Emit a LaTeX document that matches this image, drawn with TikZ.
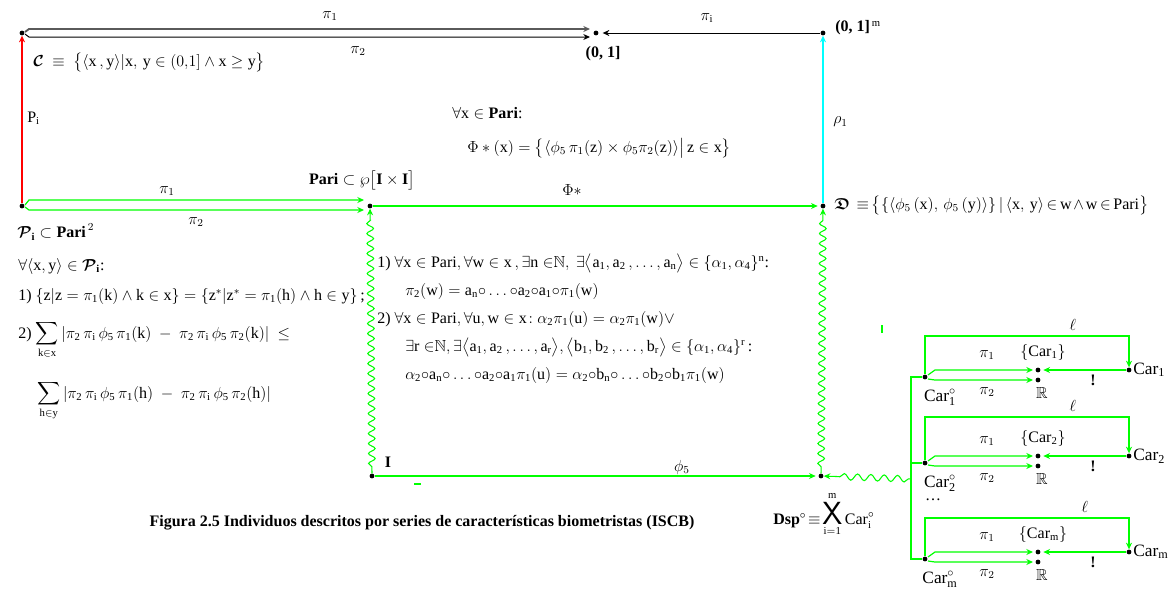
\documentclass[tikz,border=0pt]{standalone}
\usepackage{amsmath,amssymb}
\usepackage{fontspec}
\setmainfont{Liberation Serif}
\usetikzlibrary{arrows.meta,decorations.pathmorphing,calc}
\definecolor{gr}{RGB}{0,255,0}
\definecolor{cy}{RGB}{0,255,255}
\definecolor{rd}{RGB}{255,0,0}
\definecolor{dg}{RGB}{90,90,90}
\begin{document}
\begin{tikzpicture}[x=0.75pt,y=-0.75pt,font=\fontsize{12}{14}\selectfont,
  dot/.style={circle,fill=black,inner sep=0pt,minimum size=3.6pt},
  lbl/.style={inner sep=0pt},
  tip/.style={-{Stealth[length=5pt,width=4.5pt]}},
  gline/.style={draw=gr,line width=0.9pt},
  wavy/.style={draw=gr,line width=0.8pt,decorate,decoration={snake,segment length=7.5pt,amplitude=2.5pt,pre length=5pt,post length=6pt}},
  wavyh/.style={draw=gr,line width=0.8pt,decorate,decoration={snake,segment length=10pt,amplitude=2.4pt,pre length=2pt,post length=9pt}},
  capt/.style={inner sep=0pt,font=\fontsize{12}{14}\selectfont\bfseries}]
\useasboundingbox (0,0) rectangle (1175,589);
% main dots
\node[dot] (C) at (22,33) {};
\node[dot] (U) at (596,33) {};
\node[dot] (Um) at (823,33) {};
\node[dot] (P) at (22,206) {};
\node[dot] (Pari) at (370,206) {};
\node[dot] (D) at (823,206) {};
\node[dot] (I) at (372,476) {};
\node[dot] (Dsp) at (821,476) {};
% top row
\draw[dg,line width=1.4pt,tip] ($(C)+(3,-1)$) -- ($(C)+(7,-4)$) -- ($(U)+(-6,-4)$);
\draw[black,line width=0.75pt,tip] ($(C)+(3,1)$) -- ($(C)+(7,4)$) -- ($(U)+(-6,4)$);
\draw[black,line width=0.75pt,tip,shorten >=3pt] (Um) -- (U);
\draw[rd,line width=0.9pt,tip] (P) -- (C);
\draw[cy,line width=0.9pt,tip] (D) -- (Um);
% middle row
\draw[gline,tip] ($(P)+(3,-1)$) -- ($(P)+(7,-6)$) -- ($(Pari)+(-6,-6)$);
\draw[gline,tip] ($(P)+(3,1)$) -- ($(P)+(7,4)$) -- ($(Pari)+(-6,4)$);
\draw[gline,tip,shorten >=2pt] (Pari) -- (D);
% bottom row
\draw[gline,tip,shorten >=2pt] (I) -- (Dsp);
\draw[wavy,tip] (I) -- (Pari);
\draw[wavy,tip] (Dsp) -- (D);
\draw[gr,line width=0.8pt] (414,484) -- (421,484);
\draw[gr,line width=0.8pt] (882,325) -- (882,333);
% top labels
\node[lbl] at (330,16) {$\pi_1$};
\node[lbl] at (358,51) {$\pi_2$};
\node[lbl] at (707,18) {$\pi_{\mathrm{i}}$};
\node[lbl] at (603,54) {\textbf{(0, 1]}};
\node[lbl,anchor=west] at (835,28) {\textbf{(0, 1]}$^{\,\mathrm{m}}$};
\node[lbl,anchor=west] at (33,62) {$\boldsymbol{\mathcal{C}}\ \equiv\ \bigl\{\langle\mathrm{x\,,y}\rangle|\mathrm{x,\,y}\in(0{,}1]\wedge\mathrm{x}\geq\mathrm{y}\bigr\}$};
\node[lbl,anchor=west] at (27,118) {$\mathrm{P_i}$};
\node[lbl,anchor=west] at (833,122) {$\rho_1$};
% middle labels
\node[lbl] at (167,191) {$\pi_1$};
\node[lbl] at (196,222) {$\pi_2$};
\node[lbl] at (362,180) {$\mathbf{Pari}\subset\wp\bigl[\mathbf{I\times I}\bigr]$};
\node[lbl] at (572,190) {$\Phi\ast$};
\node[lbl,anchor=west] at (452,113) {$\forall\mathrm{x}\in\mathbf{Pari}$:};
\node[lbl,anchor=west] at (467,148) {$\Phi\ast(\mathrm{x})=\bigl\{\langle\phi_5\,\pi_1(\mathrm{z})\times\phi_5\pi_2(\mathrm{z})\rangle\big|\,\mathrm{z}\in\mathrm{x}\bigr\}$};
\node[lbl,anchor=west] at (834,205) {\thickmuskip=3mu\medmuskip=2mu$\boldsymbol{\mathfrak{D}}\ \equiv\bigl\{\{\langle\phi_5\,(\mathrm{x}),\,\phi_5\,(\mathrm{y})\rangle\}\,|\,\langle\mathrm{x,\,y}\rangle\in\mathrm{w}\wedge\mathrm{w}\in\mathrm{Pari}\bigr\}$};
% left block
\node[lbl,anchor=west] at (17,232) {$\boldsymbol{\mathcal{P}}_{\mathbf{i}}\subset\mathbf{Pari}^{\,2}$};
\node[lbl,anchor=west] at (18,266) {$\forall\langle\mathrm{x,y}\rangle\in\boldsymbol{\mathcal{P}}_{\mathbf{i}}$:};
\node[lbl,anchor=west] at (18,296) {1) $\mathrm{\{z|z=\pi_1(k)\wedge k\in x\}=\{z^{*}|z^{*}=\pi_1(h)\wedge h\in y\}}$\,;};
\node[lbl,anchor=base west] at (18,338) {2) $\displaystyle\sum_{\mathrm{k\in x}}\mathrm{|\pi_2\,\pi_i\,\phi_5\,\pi_1(k)\ -\ \pi_2\,\pi_i\,\phi_5\,\pi_2(k)|}\ \leq$};
\node[lbl,anchor=base west] at (37,398) {$\displaystyle\sum_{\mathrm{h\in y}}\mathrm{|\pi_2\,\pi_i\,\phi_5\,\pi_1(h)\ -\ \pi_2\,\pi_i\,\phi_5\,\pi_2(h)|}$};
% middle block
\node[lbl,anchor=west] at (377,263) {1) $\mathrm{\forall x\in Pari,\forall w\in x\,,\exists n\in}\mathbb{N}\mathrm{,\ \exists\bigl\langle a_1,a_2\,,\ldots,a_n\bigr\rangle\in\{\alpha_1,\alpha_4\}^{n}}$:};
\node[lbl,anchor=west] at (405,291) {$\mathrm{\pi_2(w)=a_n{\circ}\ldots{\circ}a_2{\circ}a_1{\circ}\pi_1(w)}$};
\node[lbl,anchor=west] at (377,319) {2) $\mathrm{\forall x\in Pari,\forall u,w\in x\!:\alpha_2\pi_1(u)=\alpha_2\pi_1(w)\vee}$};
\node[lbl,anchor=west] at (405,347) {$\mathrm{\exists r\in}\mathbb{N}\mathrm{,\exists\bigl\langle a_1,a_2\,,\ldots,a_r\bigr\rangle,\bigl\langle b_1,b_2\,,\ldots,b_r\bigr\rangle\in\{\alpha_1,\alpha_4\}^{r}}$\,:};
\node[lbl,anchor=west] at (405,375) {$\mathrm{\alpha_2{\circ}a_n{\circ}\ldots{\circ}a_2{\circ}a_1\pi_1(u)=\alpha_2{\circ}b_n{\circ}\ldots{\circ}b_2{\circ}b_1\pi_1(w)}$};
% bottom labels
\node[lbl] at (388,462) {\textbf{I}};
\node[lbl] at (682,467) {$\phi_5$};
\node[lbl,anchor=west] at (773,514) {$\mathbf{Dsp}^{\circ}\!\equiv\!\mathop{\mbox{\fontsize{24}{24}\selectfont\sffamily X}}\limits_{\mathrm{i=1}}^{\mathrm{m}}\mathrm{Car}_{\mathrm{i}}^{\circ}$};
\node[capt] at (422,523) {Figura 2.5 Individuos descritos por series de características biometristas (ISCB)};
% right structure
\foreach \k/\yo/\ltop/\lx in {1/377/336/1073,2/463/417/1073,m/559/518/1085}{
  \node[dot] (co\k) at (925,\yo) {};
  \node[dot] (cs\k) at (1038,\yo-7) {};
  \node[dot] (cr\k) at (1038,\yo+3) {};
  \node[dot] (cc\k) at (1129,\yo-7) {};
  \coordinate (lt\k) at (1129,\ltop);
  \draw[gline,tip] ($(co\k)+(3,-2)$) -- ($(co\k)+(10,-7)$) -- ($(cs\k)+(-5,0)$);
  \draw[gline,tip] ($(co\k)+(3,2)$) -- ($(co\k)+(10,3)$) -- ($(cr\k)+(-5,0)$);
  \draw[gline,tip,shorten >=2pt] (cc\k) -- (cs\k);
  \draw[gline,tip] (co\k.north) |- (lt\k) -- (cc\k.north);
  \node[lbl] at (987,\yo-22) {$\pi_1$};
  \node[lbl] at (987,\yo+15) {$\pi_2$};
  \node[lbl] at (1043,\yo-25) {$\{\mathrm{Car_{\k}}\}$};
  \node[lbl] at (1042,\yo+16) {$\mathbb{R}$};
  \node[lbl,anchor=west,font=\fontsize{13}{15}\selectfont] at (1133,\yo-7) {$\mathrm{Car_{\k}}$};
  \node[lbl,font=\fontsize{13}{15}\selectfont] at (940,\yo+20) {$\mathrm{Car}_{\mathrm{\k}}^{\circ}$};
  \node[lbl] at (1093,\yo+3) {\textbf{!}};
  \node[lbl] at (\lx,\ltop-11) {$\ell$};
}
\node[lbl] at (933,500) {\ldots};
\coordinate (b1) at (911,377);
\coordinate (b2) at (911,463);
\coordinate (bm) at (911,559);
\coordinate (ws) at (911,479);
\draw[gline] (co1) -- (b1) -- (bm) -- (com);
\draw[gline] (b2) -- (co2);
\draw[wavyh,tip] (ws) -- (Dsp);
\end{tikzpicture}
\end{document}
